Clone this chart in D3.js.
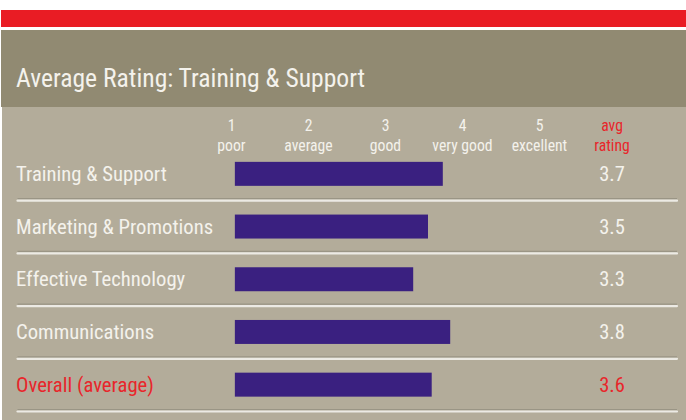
<!DOCTYPE html>
<html>
<head>
<meta charset="utf-8">
<script src="https://cdn.jsdelivr.net/npm/d3@7"></script>
<style>
html,body{margin:0;padding:0;background:#fff;}
svg{display:block;}
text{font-family:"Roboto Condensed","Roboto",sans-serif;}
</style>
</head>
<body>
<svg id="chart" width="686" height="420"></svg>
<script>
const title = "Average Rating: Training & Support";
const categories = ["Training & Support","Marketing & Promotions","Effective Technology","Communications","Overall (average)"];
const values = [3.7, 3.5, 3.3, 3.8, 3.55];
const valueLabels = ["3.7","3.5","3.3","3.8","3.6"];
const tickValues = [1,2,3,4,5];
const tickNames = ["poor","average","good","very good","excellent"];
const avgHeader = ["avg","rating"];
const highlight = "Overall (average)";
const barBase = 0.89;

const W = 686, H = 420;
const svg = d3.select("#chart");

const red = "#E91C24", head = "#918A72", body = "#B3AC9A", bar = "#3A2080", txt = "#F4F2EC", redTxt = "#E8262B";

svg.append("rect").attr("x",1).attr("y",10).attr("width",W-1).attr("height",17).attr("fill",red);
svg.append("rect").attr("x",1).attr("y",30).attr("width",W-1).attr("height",77).attr("fill",head);
svg.append("rect").attr("x",2).attr("y",107).attr("width",W-2).attr("height",H-107).attr("fill",body);

function ctext(x,y,s,size,fill,anchor){
  return svg.append("text")
    .attr("x",x).attr("y",y)
    .attr("text-anchor",anchor||"start")
    .attr("font-size",size).attr("fill",fill).text(s);
}

ctext(16,87,title,25.6,txt);

const x = d3.scaleLinear().domain([0,5]).range([169,539]);
const xh = d3.scaleLinear().domain([1,5]).range([231.5,539.5]);
const y = d3.scaleBand().domain(categories).range([147.5,411]).paddingInner(0.545).paddingOuter(0.2725);
const step = y.step();

// column headers
tickValues.forEach((t,i)=>{
  ctext(xh(t),131,String(t),15.7,txt,"middle");
  ctext(xh(t),151,tickNames[i],15.7,txt,"middle");
});
const avgX = 612;
ctext(avgX,131,avgHeader[0],15.7,redTxt,"middle");
ctext(avgX,151,avgHeader[1],15.7,redTxt,"middle");

categories.forEach((c,i)=>{
  const cy = y(c)+y.bandwidth()/2;
  const col = c===highlight ? redTxt : txt;
  svg.append("rect").attr("x",x(barBase)).attr("y",y(c)).attr("width",x(values[i])-x(barBase)).attr("height",y.bandwidth()).attr("fill",bar);
  ctext(16,cy+7,c,20.7,col);
  ctext(avgX,cy+7,valueLabels[i],20.5,col,"middle");
  const ly = y(c) - step*0.2725 + step;
  svg.append("line").attr("x1",17.5).attr("x2",677).attr("y1",ly-1.5).attr("y2",ly-1.5).attr("stroke","#9A9585").attr("stroke-width",1.2);
  svg.append("line").attr("x1",17.5).attr("x2",677).attr("y1",ly+0.5).attr("y2",ly+0.5).attr("stroke","#ECEAE4").attr("stroke-width",2.2).attr("stroke-linecap","round");
});
</script>
</body>
</html>
